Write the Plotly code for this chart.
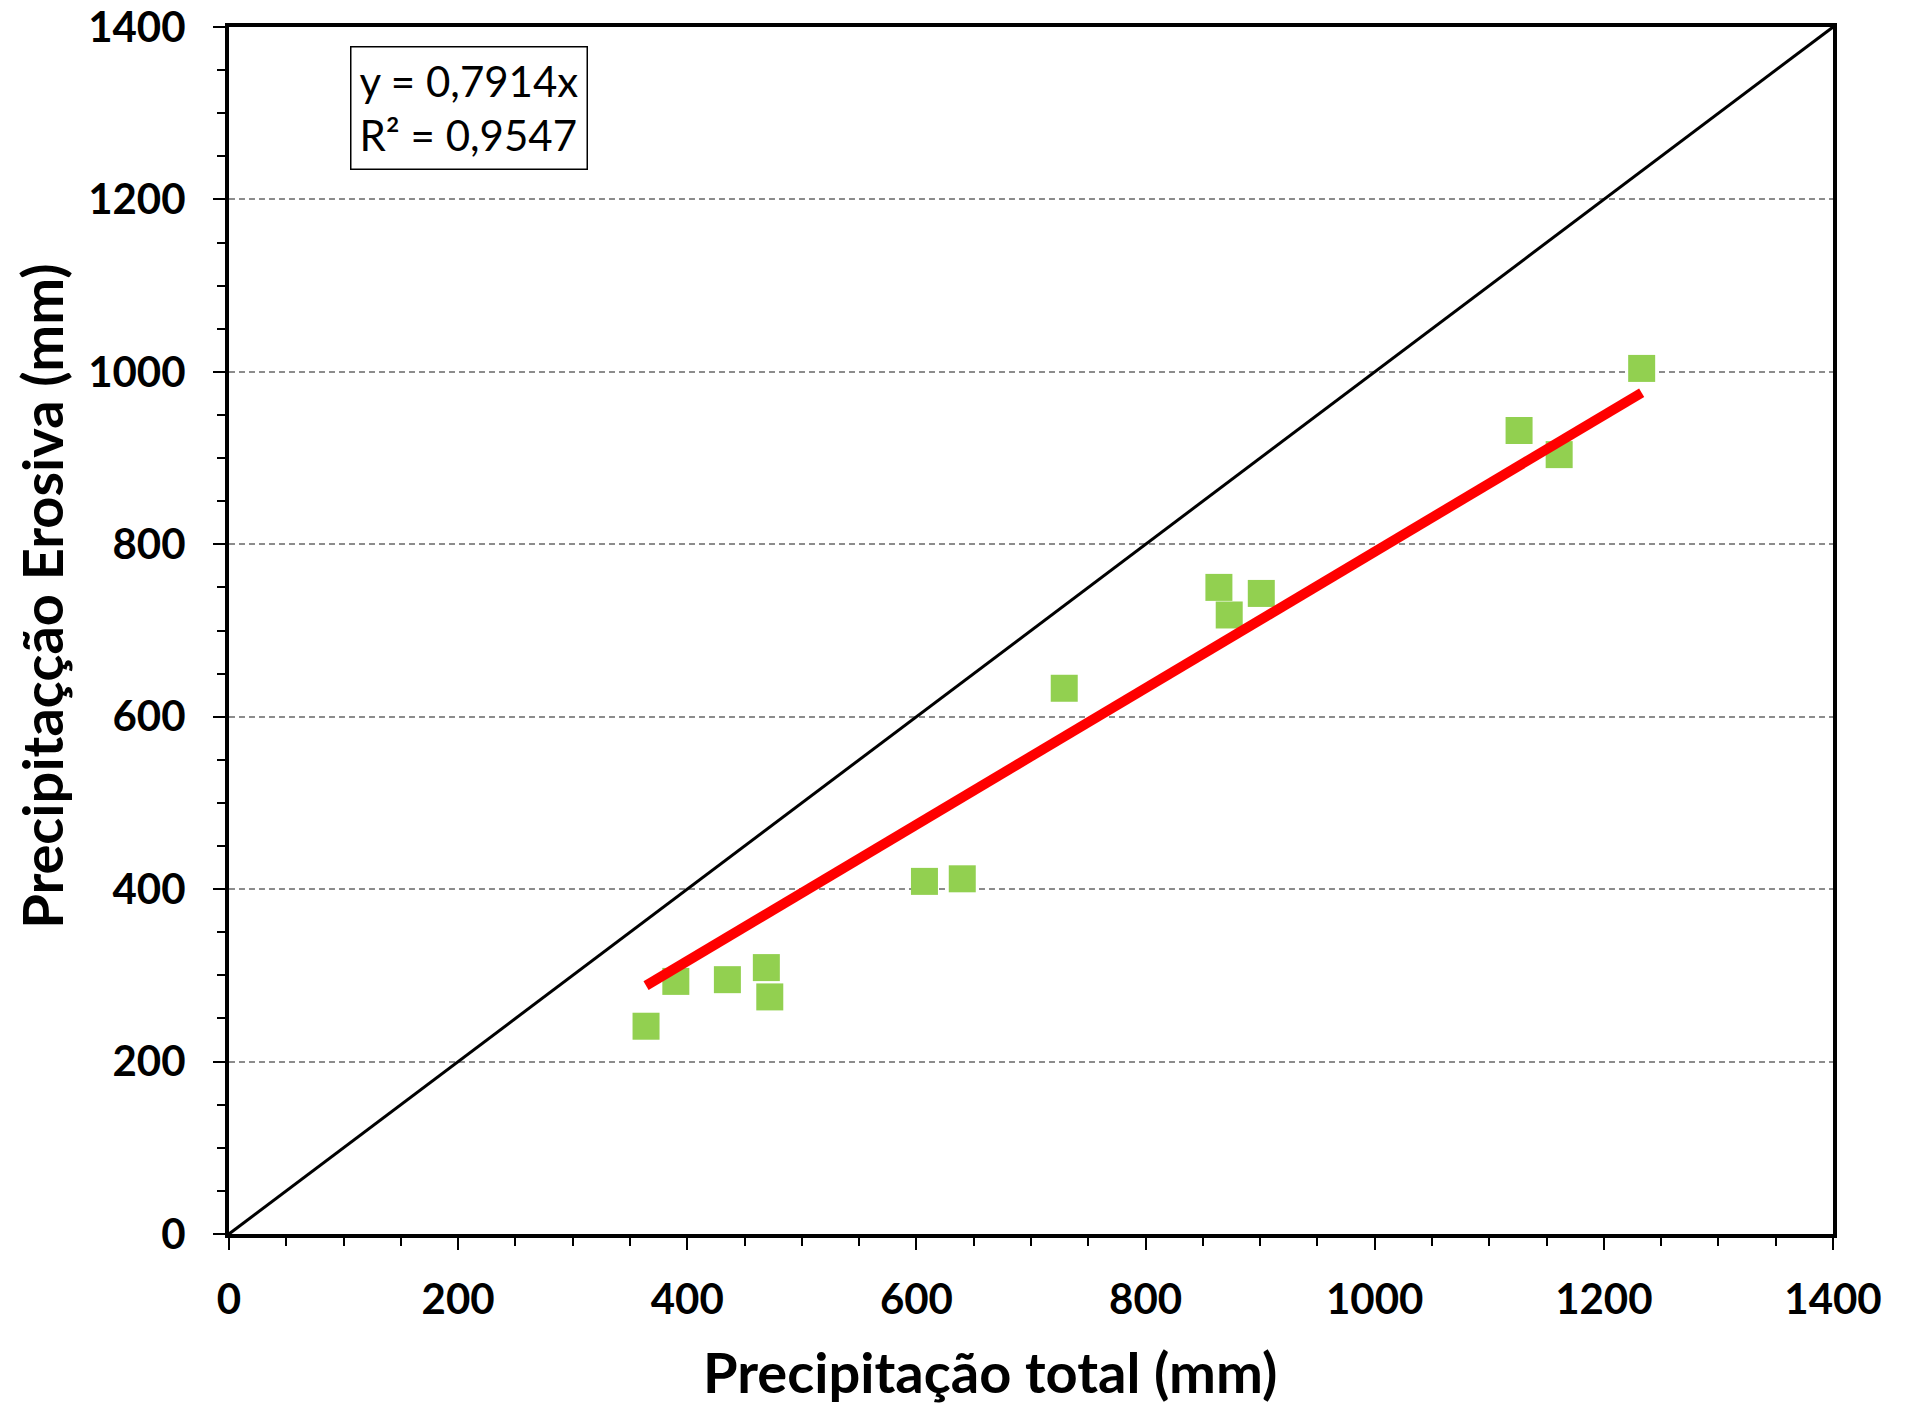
import plotly.graph_objects as go

# Data
precip_total = [364, 390, 435, 469, 472, 607, 640, 729, 864, 873, 901, 1126, 1161, 1233]
precip_erosiva = [241, 293, 295, 309, 275, 409, 412, 633, 750, 718, 743, 932, 904, 1004]
slope = 0.7914
r2 = 0.9547
axis_ticks = [0, 200, 400, 600, 800, 1000, 1200, 1400]

fig = go.Figure()

# 1:1 line
fig.add_trace(go.Scatter(x=[axis_ticks[0], axis_ticks[-1]], y=[axis_ticks[0], axis_ticks[-1]],
                         mode='lines', line=dict(color='black', width=3), showlegend=False,
                         hoverinfo='skip'))

# Observed points
fig.add_trace(go.Scatter(x=precip_total, y=precip_erosiva, mode='markers',
                         marker=dict(symbol='square', size=27, color='#92D050', line=dict(width=0)),
                         showlegend=False))

# Linear trend through origin
x_fit = [min(precip_total), max(precip_total)]
fig.add_trace(go.Scatter(x=x_fit, y=[slope * v for v in x_fit], mode='lines',
                         line=dict(color='#FF0000', width=10), showlegend=False))

tick_font = dict(family='Lato', size=42, color='black', weight='bold')
title_font = dict(family='Lato', size=56, color='black', weight='bold')

common_axis = dict(
    range=[0, 1400], tickvals=axis_ticks, ticks='outside', ticklen=12, tickwidth=2,
    tickcolor='black', showline=True, linewidth=4, linecolor='black', mirror=True,
    zeroline=False, tickfont=tick_font, automargin=False, ticklabeloverflow='allow',
    minor=dict(dtick=50, ticks='outside', ticklen=8, tickwidth=2, tickcolor='black', showgrid=False),
)

fig.update_xaxes(**common_axis, showgrid=False, ticklabelstandoff=14)
fig.update_yaxes(**common_axis, showgrid=True, gridcolor='#8c8c8c', gridwidth=2,
                 griddash='6px,4px', ticklabelstandoff=19)

# Axis titles
fig.add_annotation(xref='paper', yref='paper', x=0.4745, y=-0.114, xanchor='center', yanchor='middle',
                   text='Precipitação total (mm)', showarrow=False, font=title_font)
fig.add_annotation(xref='paper', yref='paper', x=-0.1165, y=0.528, xanchor='center', yanchor='middle',
                   text='Precipitaçção Erosiva (mm)', showarrow=False, font=title_font, textangle=-90)

# Equation box
fig.add_annotation(
    xref='paper', yref='paper', x=0.0754, y=0.984, xanchor='left', yanchor='top',
    text=f'y = {slope:.4f}x'.replace('.', ',') + '<br>' + f'R² = {r2:.4f}'.replace('.', ','),
    showarrow=False, align='left', font=dict(family='Lato', size=42, color='black'),
    bordercolor='black', borderwidth=1.5, borderpad=8, bgcolor='white'
)

# page body adds an 8px offset, so margins are shifted to keep the plot area in place
fig.update_layout(
    width=1907, height=1404,
    margin=dict(l=221, r=82, t=19, b=178),
    plot_bgcolor='white', paper_bgcolor='white',
)

fig.write_html("out.html")
